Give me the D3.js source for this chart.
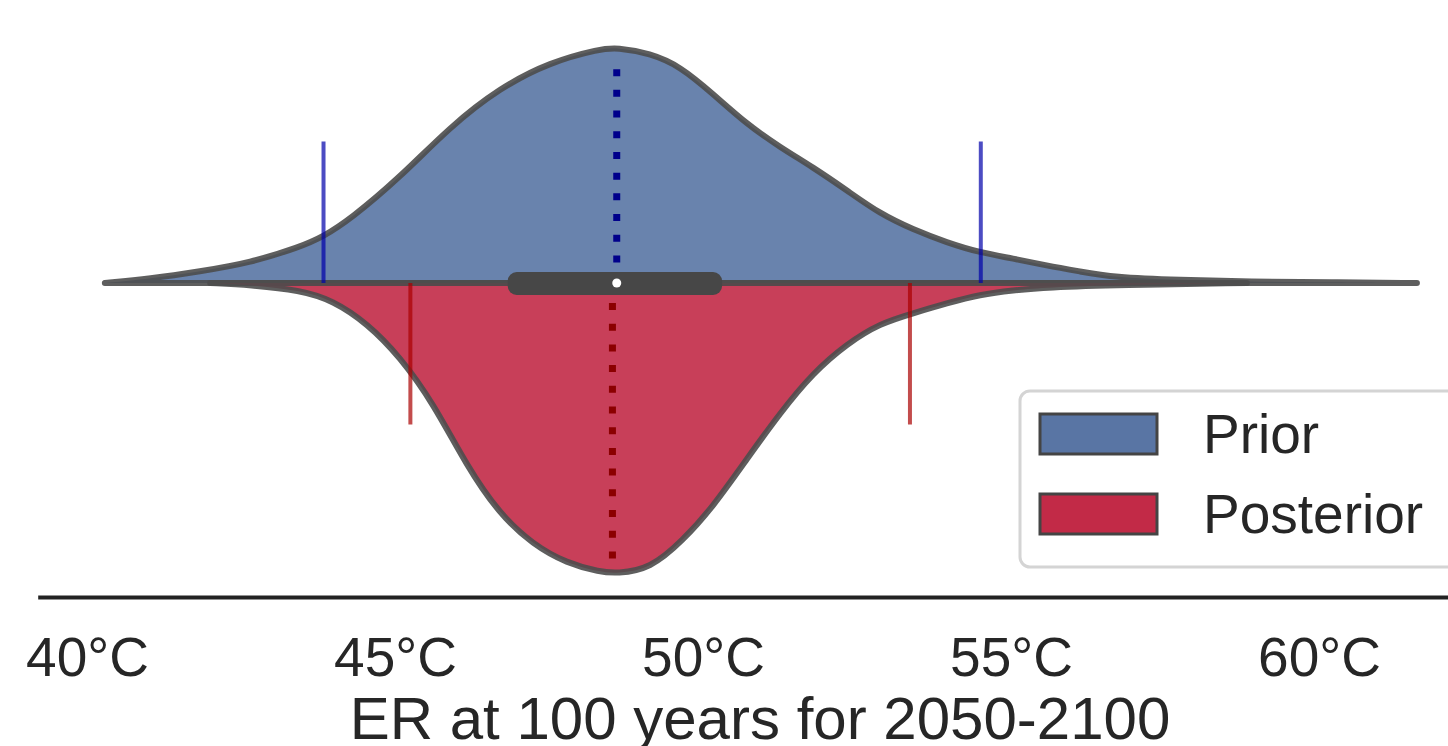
<!DOCTYPE html>
<html lang="en">
<head>
<meta charset="utf-8">
<script src="https://d3js.org/d3.v7.min.js"></script>
<style>
  body { margin: 0; background: #fff; }
  text { font-family: "Liberation Sans", Arial, sans-serif; fill: #262626; }
</style>
</head>
<body>
<script>
// density estimates (temperature in °C, density per °C)
var priorT = [40.29, 41.02, 41.83, 42.65, 43.46, 43.83, 44.27, 45.08, 45.89, 46.70, 47.52, 48.33, 48.60, 49.14, 49.63, 50.16, 50.71, 51.25, 51.79, 52.34, 52.87, 53.41, 53.96, 54.50, 55.03, 55.58, 56.12, 56.66, 57.74, 58.88, 60.18, 61.59];
var priorD = [0, 0.003, 0.008, 0.014, 0.025, 0.032, 0.044, 0.073, 0.108, 0.135, 0.153, 0.162, 0.163, 0.159, 0.150, 0.131, 0.110, 0.094, 0.080, 0.064, 0.048, 0.037, 0.028, 0.021, 0.017, 0.012, 0.008, 0.004, 0.002, 0.001, 0.0005, 0];

var postT = [42.0, 42.65, 43.46, 43.99, 44.55, 45.08, 45.62, 46.17, 46.70, 47.24, 47.79, 48.33, 48.60, 49.14, 49.68, 50.16, 50.71, 51.25, 51.79, 52.34, 52.87, 53.41, 53.96, 54.50, 55.03, 55.58, 56.77, 58.83];
var postD = [0, 0.0014, 0.005, 0.012, 0.028, 0.051, 0.083, 0.127, 0.160, 0.181, 0.194, 0.200, 0.201, 0.198, 0.178, 0.155, 0.122, 0.090, 0.062, 0.042, 0.028, 0.021, 0.014, 0.008, 0.005, 0.003, 0.0014, 0];

// combined box: q1, median, q3
var boxStats = [46.83, 48.60, 50.31];

// 5% / 95% lines and median lines
var priorBounds = [43.84, 54.51];
var postBounds = [45.25, 53.36];
var boundHeight = 0.098;
var priorMedian = 48.60, priorMedianH = 0.148;
var postMedian = 48.53, postMedianH = 0.192;

var tickValues = [40, 45, 50, 55, 60];
var seriesNames = ["Prior", "Posterior"];
var seriesColors = ["#5975a4", "#c22a47"];

var W = 1448, H = 746;
var cy = 283;

var svg = d3.select("body").append("svg")
    .attr("width", W)
    .attr("height", H);

var x = d3.scaleLinear()
    .domain([39.2, 62.6])
    .range([37.7, 37.7 + 23.4 * 61.6]);

var h = d3.scaleLinear()
    .domain([0, 0.2])
    .range([0, 289]);

function half(T, D, dir) {
    var pts = T.map(function (t, i) { return [t, D[i]]; });
    return d3.area()
        .x(function (d) { return x(d[0]); })
        .y0(cy)
        .y1(function (d) { return cy + dir * h(d[1]); })
        .curve(d3.curveBasis)(pts);
}

// the two halves
svg.append("path")
    .attr("d", half(priorT, priorD, -1))
    .attr("fill", seriesColors[0])
    .attr("fill-opacity", 0.9)
    .attr("stroke", "#4c4c4c")
    .attr("stroke-opacity", 0.9)
    .attr("stroke-width", 6)
    .attr("stroke-linejoin", "round");

svg.append("path")
    .attr("d", half(postT, postD, 1))
    .attr("fill", seriesColors[1])
    .attr("fill-opacity", 0.9)
    .attr("stroke", "#4c4c4c")
    .attr("stroke-opacity", 0.9)
    .attr("stroke-width", 6)
    .attr("stroke-linejoin", "round");

// percentile lines
svg.selectAll(".pb")
    .data(priorBounds)
    .enter().append("line")
    .attr("x1", function (d) { return x(d); })
    .attr("x2", function (d) { return x(d); })
    .attr("y1", cy)
    .attr("y2", cy - h(boundHeight))
    .attr("stroke", "#0000aa")
    .attr("stroke-opacity", 0.7)
    .attr("stroke-width", 4);

svg.selectAll(".qb")
    .data(postBounds)
    .enter().append("line")
    .attr("x1", function (d) { return x(d); })
    .attr("x2", function (d) { return x(d); })
    .attr("y1", cy)
    .attr("y2", cy + h(boundHeight))
    .attr("stroke", "#aa0000")
    .attr("stroke-opacity", 0.7)
    .attr("stroke-width", 4);

// dotted median lines
svg.append("line")
    .attr("x1", x(priorMedian)).attr("x2", x(priorMedian))
    .attr("y1", cy - h(priorMedianH)).attr("y2", cy)
    .attr("stroke", "#00008b")
    .attr("stroke-width", 7)
    .attr("stroke-dasharray", "7 13.7");

svg.append("line")
    .attr("x1", x(postMedian)).attr("x2", x(postMedian))
    .attr("y1", cy + 20).attr("y2", cy + h(postMedianH))
    .attr("stroke", "#8b0000")
    .attr("stroke-width", 7)
    .attr("stroke-dasharray", "7 13.7");

// inner box
svg.append("rect")
    .attr("x", x(boxStats[0]))
    .attr("y", cy - 11)
    .attr("width", x(boxStats[2]) - x(boxStats[0]))
    .attr("height", 23)
    .attr("rx", 9)
    .attr("fill", "#474747");

svg.append("circle")
    .attr("cx", x(boxStats[1]))
    .attr("cy", cy)
    .attr("r", 4.5)
    .attr("fill", "#fff");

// x axis
var axis = svg.append("g")
    .attr("transform", "translate(0,597)")
    .call(d3.axisBottom(x)
        .tickValues(tickValues)
        .tickSize(0)
        .tickPadding(40)
        .tickFormat(function (d) { return d + "°C"; }));
axis.select(".domain")
    .attr("stroke", "#222")
    .attr("stroke-width", 4);
axis.selectAll("text")
    .style("font-family", "'Liberation Sans', Arial, sans-serif")
    .style("font-size", "55px")
    .attr("fill", "#262626");

svg.append("text")
    .attr("x", 760)
    .attr("y", 739)
    .attr("text-anchor", "middle")
    .style("font-size", "60px")
    .text("ER at 100 years for 2050-2100");

// legend
var lg = svg.append("g");
lg.append("rect")
    .attr("x", 1020).attr("y", 391)
    .attr("width", 460).attr("height", 176)
    .attr("rx", 10)
    .attr("fill", "#fff")
    .attr("fill-opacity", 0.8)
    .attr("stroke", "#d4d4d4")
    .attr("stroke-width", 3);

var items = lg.selectAll(".item")
    .data(seriesNames)
    .enter().append("g")
    .attr("transform", function (d, i) { return "translate(0," + (i * 80) + ")"; });
items.append("rect")
    .attr("x", 1040).attr("y", 414)
    .attr("width", 117).attr("height", 40)
    .attr("fill", function (d, i) { return seriesColors[i]; })
    .attr("stroke", "#444")
    .attr("stroke-width", 3);
items.append("text")
    .attr("x", 1203).attr("y", 453)
    .style("font-size", "55px")
    .text(function (d) { return d; });
</script>
</body>
</html>
